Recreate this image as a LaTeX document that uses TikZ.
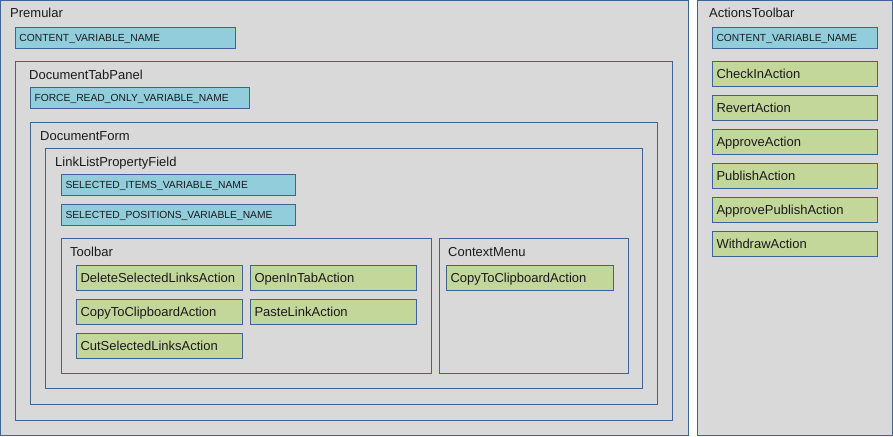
\documentclass[tikz,border=0pt]{standalone}
\usepackage{fontspec}
\setmainfont{Liberation Sans}
\usetikzlibrary{positioning}
\definecolor{paneledge}{HTML}{3F6394}
\definecolor{panelfill}{HTML}{D9D9D9}
\definecolor{varfill}{HTML}{92CDDC}
\definecolor{actfill}{HTML}{C4D79B}
\definecolor{inktext}{HTML}{1A1A1A}
\tikzset{
  panel/.style={draw=paneledge, fill=panelfill, line width=1pt},
  paneltitle/.style={anchor=base west, inner sep=0pt, text=inktext, font=\fontsize{13}{15}\selectfont},
  varbox/.style={draw=paneledge, fill=varfill, line width=1pt, anchor=north west,
    minimum height=21pt, text width=#1, align=left, inner xsep=4pt, inner ysep=0pt,
    text height=9pt, text depth=1.6pt,
    text=inktext, font=\fontsize{10.3}{12}\selectfont},
  actbox/.style={draw=paneledge, fill=actfill, line width=1pt, anchor=north west,
    minimum height=25pt, text width=#1, align=left, inner xsep=4pt, inner ysep=0pt,
    text height=11pt, text depth=1.7pt,
    text=inktext, font=\fontsize{13}{15}\selectfont},
}
\begin{document}
\begin{tikzpicture}[x=1pt, y=-1pt]
\useasboundingbox (0,0) rectangle (893,436);
% --- Premular ---
\draw[panel] (0.5,0.5) rectangle (688.5,435.5);
\node[paneltitle] (premular) at (10,18) {Premular};
\node[varbox=212pt] (contentvar) at (15,27) {CONTENT\_VARIABLE\_NAME};
% --- DocumentTabPanel ---
\draw[panel] (15.5,61.5) rectangle (672.5,420.5);
\node[paneltitle] (tabpanel) at (29,79) {DocumentTabPanel};
\node[varbox=211pt] (forcevar) at (30,87) {FORCE\_READ\_ONLY\_VARIABLE\_NAME};
% --- DocumentForm ---
\draw[panel] (30.5,122.5) rectangle (657.5,404.5);
\node[paneltitle] (docform) at (40,140) {DocumentForm};
% --- LinkListPropertyField ---
\draw[panel] (45.5,148.5) rectangle (642.5,388.5);
\node[paneltitle] (linkfield) at (55,166) {LinkListPropertyField};
\node[varbox=226pt] (selitems) at (61,174) {SELECTED\_ITEMS\_VARIABLE\_NAME};
\node[varbox=226pt, below=8pt of selitems] (selpos) {SELECTED\_POSITIONS\_VARIABLE\_NAME};
% --- Toolbar ---
\draw[panel] (61.5,238.5) rectangle (431.5,373.5);
\node[paneltitle] (toolbar) at (70,256) {Toolbar};
\node[actbox=158pt] (delsel) at (76,265) {DeleteSelectedLinksAction};
\node[actbox=158pt, right=7pt of delsel] (opentab) {OpenInTabAction};
\node[actbox=158pt, below=8pt of delsel] (copyclip) {CopyToClipboardAction};
\node[actbox=158pt, below=8pt of opentab] (pastelink) {PasteLinkAction};
\node[actbox=158pt, below=8pt of copyclip] (cutsel) {CutSelectedLinksAction};
% --- ContextMenu ---
\draw[panel] (439.5,238.5) rectangle (628.5,373.5);
\node[paneltitle] (ctxmenu) at (448,256) {ContextMenu};
\node[actbox=159pt] (ctxcopy) at (446,265) {CopyToClipboardAction};
% --- ActionsToolbar ---
\draw[panel] (697.5,0.5) rectangle (892.5,435.5);
\node[paneltitle] (actbar) at (709,18) {ActionsToolbar};
\node[varbox=157pt] (barvar) at (712,27) {CONTENT\_VARIABLE\_NAME};
\node[actbox=157pt] (checkin) at (712,61) {CheckInAction};
\node[actbox=157pt, below=8pt of checkin] (revert) {RevertAction};
\node[actbox=157pt, below=8pt of revert] (approve) {ApproveAction};
\node[actbox=157pt, below=8pt of approve] (publish) {PublishAction};
\node[actbox=157pt, below=8pt of publish] (apppub) {ApprovePublishAction};
\node[actbox=157pt, below=8pt of apppub] (withdraw) {WithdrawAction};
\end{tikzpicture}
\end{document}
